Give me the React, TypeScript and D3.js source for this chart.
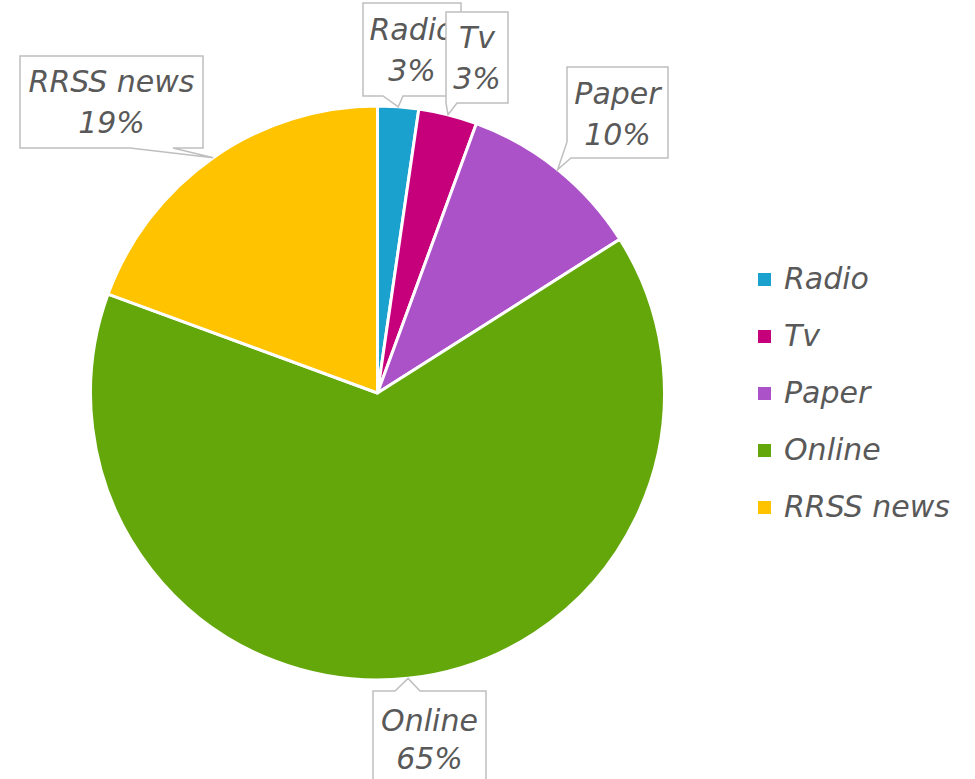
import { useRef, useEffect } from "react";
import * as d3 from "d3";

const categories = ["Radio", "Tv", "Paper", "Online", "RRSS news"];
const shares = [2.3, 3.3, 10.4, 64.6, 19.4];
const pctLabels = ["3%", "3%", "10%", "65%", "19%"];
const colors = ["#1ba1cd", "#c6007b", "#ab52c9", "#64a70b", "#ffc300"];

// callout boxes placed by hand, like the original (same order as categories)
const callouts = [
  { x: 363, y: 3, w: 98, h: 93, side: "bottom", b0: 383, b1: 403, lines: [40, 81] },
  { x: 446, y: 12, w: 62, h: 91, side: "bottom", b0: 446, b1: 457, lines: [48, 89] },
  { x: 567, y: 67, w: 101, h: 91, side: "leftcorner", b0: 142, b1: 571, lines: [104, 145] },
  { x: 373, y: 691, w: 113, h: 120, side: "top", b0: 395, b1: 420, lines: [731, 769] },
  { x: 20, y: 56, w: 183, h: 92, side: "bottom", b0: 130, b1: 173, lines: [92, 133] },
];

export default function App() {
  const ref = useRef<SVGSVGElement>(null);
  useEffect(() => {
    if (!ref.current) return;
    const svg = d3.select(ref.current);
    svg.selectAll("*").remove();
    const cx = 377.5, cy = 393, r = 287;
    const font = "'DejaVu Sans', sans-serif";

    const pie = d3.pie<number>().sort(null).value(d => d);
    const arcs = pie(shares);
    const arc = d3.arc<d3.PieArcDatum<number>>().innerRadius(0).outerRadius(r);

    const g = svg.append("g").attr("transform", `translate(${cx},${cy})`);
    g.selectAll("path").data(arcs).join("path")
      .attr("d", arc).attr("fill", (_, i) => colors[i])
      .attr("stroke", "#fff").attr("stroke-width", 3).attr("stroke-linejoin", "round");

    // callouts
    arcs.forEach((a, i) => {
      const c = callouts[i];
      const mid = (a.startAngle + a.endAngle) / 2;
      const tx = cx + r * Math.sin(mid);
      const ty = cy - r * Math.cos(mid);
      const x0 = c.x, y0 = c.y, x1 = c.x + c.w, y1 = c.y + c.h;
      let d = "";
      if (c.side === "bottom") {
        d = `M${x0},${y0}H${x1}V${y1}H${c.b1}L${tx},${ty}L${c.b0},${y1}H${x0}Z`;
      } else if (c.side === "top") {
        d = `M${x0},${y0}H${c.b0}L${tx},${ty}L${c.b1},${y0}H${x1}V${y1}H${x0}Z`;
      } else {
        d = `M${x0},${y0}H${x1}V${y1}H${c.b1}L${tx},${ty}L${x0},${c.b0}Z`;
      }
      svg.append("path").attr("d", d).attr("fill", "#fff")
        .attr("stroke", "#bfbfbf").attr("stroke-width", 1.5);
      const t = svg.append("text").attr("text-anchor", "middle")
        .attr("font-family", font).attr("font-style", "italic")
        .attr("font-size", 30).attr("fill", "#595959");
      t.append("tspan").attr("x", x0 + c.w / 2).attr("y", c.lines[0]).text(categories[i]);
      t.append("tspan").attr("x", x0 + c.w / 2).attr("y", c.lines[1]).text(pctLabels[i]);
    });

    // legend
    const ly = d3.scalePoint<string>().domain(categories).range([278, 506]);
    const lg = svg.append("g");
    lg.selectAll("rect").data(categories).join("rect")
      .attr("x", 758).attr("y", d => ly(d)! - 5).attr("width", 13).attr("height", 13)
      .attr("fill", (_, i) => colors[i]);
    lg.selectAll("text").data(categories).join("text")
      .attr("x", 784).attr("y", d => ly(d)! + 11)
      .attr("font-family", font).attr("font-style", "italic")
      .attr("font-size", 30).attr("fill", "#595959").text(d => d);
  }, []);

  return (
    <svg ref={ref} width={975} height={779}
      style={{ position: "absolute", left: 0, top: 0, background: "#fff" }} />
  );
}
